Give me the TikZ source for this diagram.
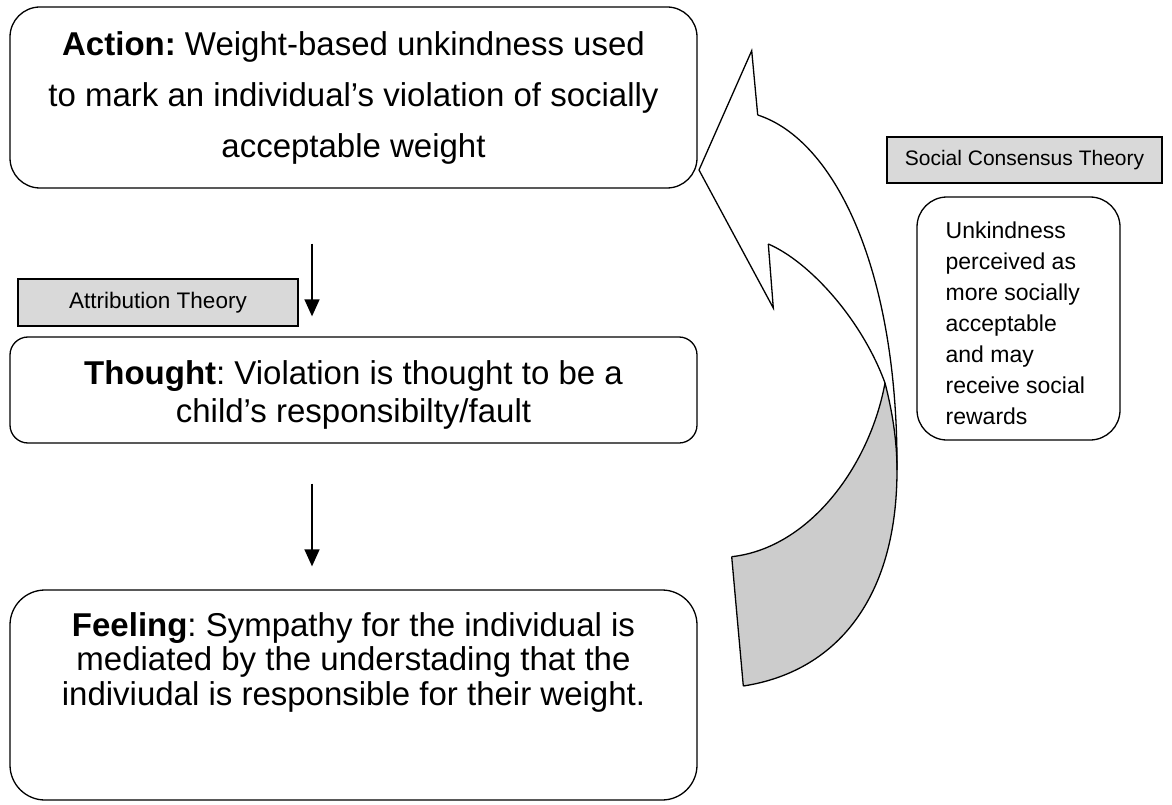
\documentclass[tikz,border=0pt]{standalone}
\usepackage{fontspec}
\setmainfont{Liberation Sans}
\usetikzlibrary{arrows.meta}
\definecolor{labelgray}{HTML}{D9D9D9}
\definecolor{backgray}{HTML}{CCCCCC}
\frenchspacing
\begin{document}
\begin{tikzpicture}[x=1pt,y=-1pt,line width=1.3pt,
  mainbox/.style={draw,rounded corners=#1,inner sep=0pt,align=center,
    font=\fontsize{33}{51}\selectfont},
  boxtext/.style={align=center,inner sep=0pt},
  theorylabel/.style={draw,fill=labelgray,inner sep=0pt},
  flowarrow/.style={-{Triangle[length=17pt,width=15pt]},line width=1.5pt}]
\useasboundingbox (0,0) rectangle (1172,805);

% left column: action -> thought -> feeling
\node[mainbox=30,minimum width=687,minimum height=181] (action) at (353.5,97.5)
  {\textbf{Action:} Weight-based unkindness used\\
   to mark an individual’s violation of socially\\
   acceptable weight};

\node[mainbox=18,minimum width=687,minimum height=106] (thought) at (353.5,390) {};
\node[boxtext,font=\fontsize{33}{38}\selectfont] (thoughttext) at (353.5,395)
  {\textbf{Thought}: Violation is thought to be a\\
   child’s responsibilty/fault};

\node[mainbox=35,minimum width=687,minimum height=210] (feeling) at (353.5,695) {};
\node[boxtext,font=\fontsize{33}{34.5}\selectfont] (feelingtext) at (353.5,662)
  {\textbf{Feeling}: Sympathy for the individual is\\
   mediated by the understading that the\\
   indiviudal is responsible for their weight.};

\node[theorylabel,minimum width=280,minimum height=47,
  font=\fontsize{22.5}{26}\selectfont] (attrib) at (158,302.5)
  {Attribution Theory};

\draw[flowarrow] ([xshift=-41.5pt,yshift=-55pt]action.south)
  -- ([xshift=-41.5pt,yshift=20pt]thought.north);
\draw[flowarrow] ([xshift=-41.5pt,yshift=-40pt]thought.south)
  -- ([xshift=-41.5pt,yshift=23pt]feeling.north);

% right side: social consensus
\node[theorylabel,minimum width=275,minimum height=46,
  font=\fontsize{21}{25}\selectfont] (social) at (1024.5,160)
  {Social Consensus Theory};
\node[draw,rounded corners=30,minimum width=203,minimum height=243] (unkind) at (1018.5,318.5) {};
\node[anchor=west,align=left,inner sep=0pt,font=\fontsize{23}{31}\selectfont]
  (unkindtext) at (945,323)
  {Unkindness\\ perceived as\\ more socially\\ acceptable\\ and may\\ receive social\\ rewards};

% curved arrow: shaded back face, then outlines
\fill[backgray] (731.7,556.7) .. controls (810,548) and (870,465) .. (885,383)
  .. controls (892,410) and (897,440) .. (897,470)
  .. controls (897,600) and (835,672) .. (743.3,686) -- cycle;
\draw (731.7,556.7) .. controls (810,548) and (870,465) .. (885,383);
\draw (743.3,686) -- (731.7,556.7);
\draw (757.7,115) .. controls (835,140) and (898,270) .. (897,470)
  .. controls (897,600) and (835,672) .. (743.3,686);
\draw (768.3,244) .. controls (810,262) and (862,320) .. (885,383)
  .. controls (892,410) and (897,440) .. (897,470);
\draw[line join=miter] (757.7,115) -- (751.7,50.7) -- (699,170) -- (773.3,308) -- (768.3,244);
\end{tikzpicture}
\end{document}
